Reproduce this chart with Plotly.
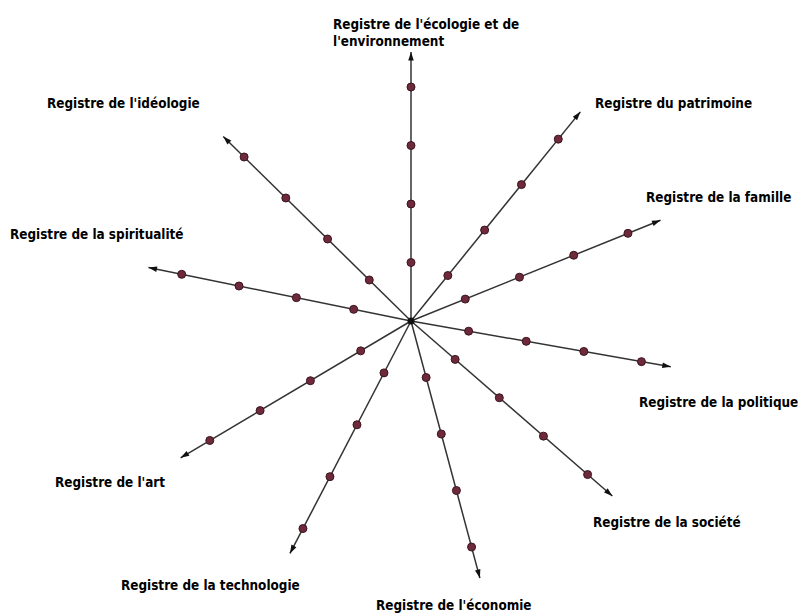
import plotly.graph_objects as go

# Axis labels (French) and their directions (degrees, counter-clockwise from east)
labels = [
    "Registre de l'écologie et de<br>l'environnement",
    "Registre du patrimoine",
    "Registre de la famille",
    "Registre de la politique",
    "Registre de la société",
    "Registre de l'économie",
    "Registre de la technologie",
    "Registre de l'art",
    "Registre de la spiritualité",
    "Registre de l'idéologie",
]
angles = [90, 51, 22, -10, -41, -75, -117.5, -149.3, 168.5, 135.5]
axis_lengths = [4.6, 4.6, 4.6, 4.51, 4.56, 4.55, 4.48, 4.58, 4.58, 4.5]
dot_levels = [1, 2, 3, 4]

# label anchor positions (pixels: left edge / vertical centre)
label_x = [331, 593, 644, 637, 591, 374, 119, 53, 8, 45]
label_y = [33, 104, 197, 402, 522, 605, 585, 482, 235, 104]

W, H = 798, 615
LINE_COL = "#333333"
DOT_COL = "#6e2a3a"

fig = go.Figure()

for ang, L in zip(angles, axis_lengths):
    fig.add_trace(go.Scatterpolar(
        r=[0, L], theta=[ang, ang], mode="lines",
        line=dict(color=LINE_COL, width=1.5), hoverinfo="skip", showlegend=False))

# arrowheads
fig.add_trace(go.Scatterpolar(
    r=axis_lengths, theta=angles, mode="markers",
    marker=dict(symbol="arrow", size=9, color="#111111",
                angle=[90 - a for a in angles], line=dict(width=0)),
    hoverinfo="skip", showlegend=False))

# dots
dr, dt = [], []
for ang in angles:
    for lv in dot_levels:
        dr.append(lv)
        dt.append(ang)
fig.add_trace(go.Scatterpolar(
    r=dr, theta=dt, mode="markers",
    marker=dict(symbol="circle", size=8, color=DOT_COL,
                line=dict(color="#3a1520", width=1)),
    hoverinfo="skip", showlegend=False))

# centre
fig.add_trace(go.Scatterpolar(
    r=[0], theta=[0], mode="markers",
    marker=dict(symbol="circle", size=7, color="#111111"),
    hoverinfo="skip", showlegend=False))

R_MAX = 5.0
unit_px = 58.5
R_px = R_MAX * unit_px
cx, cy = 411, 321
dom_x = [(cx - R_px) / W, (cx + R_px) / W]
dom_y = [1 - (cy + R_px) / H, 1 - (cy - R_px) / H]

fig.update_layout(
    width=W, height=H,
    margin=dict(l=0, r=0, t=0, b=0),
    paper_bgcolor="white", plot_bgcolor="white",
    polar=dict(
        domain=dict(x=dom_x, y=dom_y),
        bgcolor="rgba(0,0,0,0)",
        radialaxis=dict(range=[0, R_MAX], visible=False, showgrid=False),
        angularaxis=dict(visible=False, showgrid=False, rotation=0, direction="counterclockwise"),
    ),
)

for txt, x, y in zip(labels, label_x, label_y):
    fig.add_annotation(
        text="<b>" + txt + "</b>", x=x / W, y=1 - y / H, xref="paper", yref="paper",
        xanchor="left", yanchor="middle", align="left", showarrow=False,
        font=dict(family="Liberation Sans Narrow, DejaVu Sans Condensed, Arial Narrow, sans-serif",
                  size=13.4, color="#000000"))

fig.write_html("out.html", config={"displayModeBar": False},
               post_script="document.body.style.margin='0px';document.body.style.overflow='hidden';")
